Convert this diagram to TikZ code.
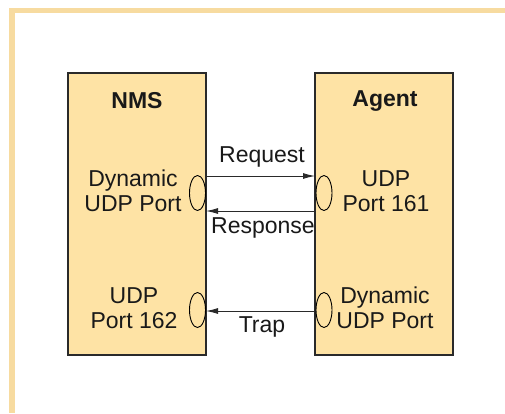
\documentclass[tikz,border=0pt]{standalone}
\usepackage{fontspec}
\setmainfont{Liberation Sans}
\usetikzlibrary{arrows.meta,shapes.geometric}
\definecolor{frame}{HTML}{F7DBA0}
\definecolor{boxfill}{HTML}{FEE3A5}
\definecolor{edge}{HTML}{2A2A2A}
\tikzset{
  unit/.style={draw=edge, line width=1.8pt, fill=boxfill},
  port/.style={draw=black, line width=0.9pt, ellipse, minimum width=16pt, minimum height=35pt, inner sep=0pt},
  lbl/.style={font=\fontsize{23}{25.5}\selectfont, align=center, inner sep=0pt, text=black!90},
  msg/.style={draw=edge, line width=0.9pt, -{Latex[length=12pt,width=6pt]}},
}
\begin{document}
\begin{tikzpicture}[x=1pt,y=-1pt]
\useasboundingbox (0,0) rectangle (505,413);
\fill[white] (0,0) rectangle (505,413);
\fill[frame] (9,7.5) rectangle (505,12.7);
\fill[frame] (9,7.5) rectangle (14.7,413);
\draw[unit] (68,73) rectangle (206,355);
\draw[unit] (315,73) rectangle (453,355);
\node[lbl, font=\fontsize{23}{25.5}\selectfont\bfseries] (nms) at (137,101) {NMS};
\node[lbl, font=\fontsize{23}{25.5}\selectfont\bfseries] (agent) at (385,101) {Agent};
\node[lbl] (ldyn) at (133,191) {Dynamic\\UDP Port};
\node[lbl] (l162) at (134,308) {UDP\\Port 162};
\node[lbl] (r161) at (386,191) {UDP\\Port 161};
\node[lbl] (rdyn) at (385,308) {Dynamic\\UDP Port};
\node[port] (pl1) at (197.5,193) {};
\node[port] (pr1) at (324,193) {};
\node[port] (pl2) at (197.5,310) {};
\node[port] (pr2) at (324,310) {};
\coordinate (a1s) at (206,176);
\coordinate (a1e) at (315,176);
\coordinate (a2s) at (315,211);
\coordinate (a2e) at (206,211);
\coordinate (a3s) at (315,311);
\coordinate (a3e) at (206,311);
\draw[msg] (a1s) -- (a1e);
\draw[msg] (a2s) -- (a2e);
\draw[msg] (a3s) -- (a3e);
\node[lbl] (req) at (262,157) {Request};
\node[lbl] (resp) at (263,228) {Response};
\node[lbl] (trap) at (262,327) {Trap};
\end{tikzpicture}
\end{document}
